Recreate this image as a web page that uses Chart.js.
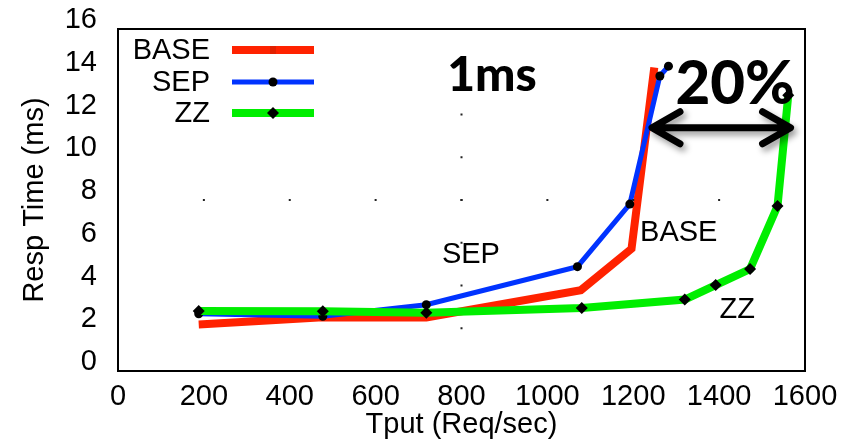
<!DOCTYPE html>
<html>
<head>
    <title>Resp Time vs Tput</title>
    <script src="https://cdn.jsdelivr.net/npm/chart.js"></script>
    <style>
        body { margin: 0; background: #fff; }
    </style>
</head>
<body>
    <canvas id="rtChart" width="855" height="443"></canvas>

    <script>
    // values
    const seriesNames = ['BASE', 'SEP', 'ZZ'];
    const baseTput = [188, 477, 718, 1078, 1196, 1249];
    const baseResp = [2.18, 2.52, 2.5, 3.78, 5.72, 14.2];
    const sepTput = [188, 477, 718, 1070, 1192, 1262, 1282];
    const sepResp = [2.68, 2.56, 3.1, 4.88, 7.81, 13.8, 14.26];
    const zzTput = [188, 477, 718, 1080, 1320, 1392, 1472, 1536, 1561];
    const zzResp = [2.81, 2.8, 2.72, 2.95, 3.34, 4.02, 4.77, 7.72, 12.9];
    const xTickValues = [0, 200, 400, 600, 800, 1000, 1200, 1400, 1600];
    const yTickValues = [0, 2, 4, 6, 8, 10, 12, 14, 16];

    const toPoints = (xs, ys) => xs.map((x, i) => ({ x: x, y: ys[i] }));
    const FONT = '"Liberation Sans", Arial, Helvetica, sans-serif';
    const BOLD = 'Lato, "DejaVu Sans", sans-serif';

    const noPad = s => { s.paddingTop = 0; s.paddingBottom = 0; s.paddingLeft = 0; s.paddingRight = 0; };

    // frame, sparse grid dots, legend, labels and the 20% arrow
    const decor = {
        id: 'decor',
        afterDatasetsDraw(chart) {
            const c = chart.ctx;
            const a = chart.chartArea;
            const xs = chart.scales.x, ys = chart.scales.y;

            // dotted mid grid (x=800, y=8)
            c.save();
            c.fillStyle = '#222';
            yTickValues.forEach(v => {
                const py = ys.getPixelForValue(v);
                if (v > 0 && v < 16) c.fillRect(xs.getPixelForValue(800) - 1, py - 1, 2, 2);
            });
            xTickValues.forEach(v => {
                const px = xs.getPixelForValue(v);
                if (v > 0 && v < 1600) c.fillRect(px - 1, ys.getPixelForValue(8) - 1, 2, 2);
            });
            c.restore();

            // frame
            c.save();
            c.strokeStyle = '#000';
            c.lineWidth = 2;
            c.strokeRect(a.left, a.top, a.right - a.left, a.bottom - a.top);
            c.restore();

            // legend
            const ds = chart.data.datasets;
            const legY = [50, 82, 113];
            c.save();
            c.font = '29px ' + FONT;
            c.textAlign = 'right';
            c.textBaseline = 'middle';
            ds.forEach((d, i) => {
                const y = legY[i];
                c.fillStyle = '#000';
                c.fillText(d.label, 210, y + 1);
                c.strokeStyle = d.borderColor;
                c.lineWidth = d.borderWidth;
                c.beginPath();
                c.moveTo(232, y);
                c.lineTo(314, y);
                c.stroke();
                c.fillStyle = '#000';
                if (d.pointStyle === 'circle') {
                    c.beginPath();
                    c.arc(273, y, 4.5, 0, Math.PI * 2);
                    c.fill();
                } else if (d.pointStyle === 'rectRot') {
                    c.beginPath();
                    c.moveTo(273, y - 6);
                    c.lineTo(279, y);
                    c.lineTo(273, y + 6);
                    c.lineTo(267, y);
                    c.closePath();
                    c.fill();
                } else {
                    c.fillStyle = '#e22000';
                    c.fillRect(270, y - 4, 6, 8);
                }
            });

            // curve labels
            c.textAlign = 'center';
            c.fillStyle = '#000';
            c.fillText('SEP', xs.getPixelForValue(822), ys.getPixelForValue(5.45));
            c.fillText('BASE', xs.getPixelForValue(1306), ys.getPixelForValue(6.44));
            c.fillText('ZZ', xs.getPixelForValue(1442), ys.getPixelForValue(2.84));

            // big annotations
            c.font = '900 48px ' + BOLD;
            c.fillText('1ms', xs.getPixelForValue(871), ys.getPixelForValue(13.83));
            c.font = '900 60px ' + BOLD;
            c.fillText('20%', xs.getPixelForValue(1437), ys.getPixelForValue(13.4));

            // double arrow
            const x1 = xs.getPixelForValue(1239), x2 = xs.getPixelForValue(1571);
            const ya = ys.getPixelForValue(11.38);
            c.shadowColor = 'rgba(0,0,0,0.4)';
            c.shadowBlur = 6;
            c.shadowOffsetX = 3;
            c.shadowOffsetY = 4;
            c.strokeStyle = '#000';
            c.lineWidth = 7;
            c.lineCap = 'round';
            c.lineJoin = 'round';
            c.beginPath();
            c.moveTo(x1 + 3, ya);
            c.lineTo(x2 - 3, ya);
            c.moveTo(x1 + 30, ya - 16);
            c.lineTo(x1 + 2, ya);
            c.lineTo(x1 + 30, ya + 16);
            c.moveTo(x2 - 30, ya - 16);
            c.lineTo(x2 - 2, ya);
            c.lineTo(x2 - 30, ya + 16);
            c.stroke();
            c.restore();
        }
    };

    const ctx = document.getElementById('rtChart').getContext('2d');
    const chart = new Chart(ctx, {
        type: 'line',
        data: {
            datasets: [{
                label: seriesNames[0],
                data: toPoints(baseTput, baseResp),
                borderColor: '#ff2200',
                borderWidth: 8,
                pointRadius: 0,
                pointStyle: 'rect',
                order: 3
            }, {
                label: seriesNames[1],
                data: toPoints(sepTput, sepResp),
                borderColor: '#0033ff',
                borderWidth: 5,
                pointStyle: 'circle',
                pointRadius: 4.5,
                pointBackgroundColor: '#000',
                pointBorderColor: '#000',
                pointBorderWidth: 0,
                order: 2
            }, {
                label: seriesNames[2],
                data: toPoints(zzTput, zzResp),
                borderColor: '#00ee00',
                borderWidth: 8,
                pointStyle: 'rectRot',
                pointRadius: 6,
                pointBackgroundColor: '#000',
                pointBorderColor: '#000',
                pointBorderWidth: 0,
                order: 1
            }]
        },
        options: {
            responsive: false,
            animation: false,
            devicePixelRatio: 1,
            layout: { padding: { left: 0, right: 50, top: 29, bottom: 0 } },
            elements: { line: { tension: 0, fill: false } },
            plugins: {
                legend: { display: false },
                tooltip: { enabled: false }
            },
            scales: {
                x: {
                    type: 'linear',
                    min: 0,
                    max: 1600,
                    afterBuildTicks: s => { s.ticks = xTickValues.map(v => ({ value: v })); },
                    afterFit: s => { s.height = 72; noPad(s); },
                    grid: { display: false, drawTicks: false },
                    border: { display: false },
                    ticks: { color: '#000', font: { family: FONT, size: 29 }, padding: 9, maxRotation: 0, callback: v => String(v) },
                    title: { display: true, text: 'Tput (Req/sec)', color: '#000', font: { family: FONT, size: 29 }, padding: { top: 0, bottom: 1 } }
                },
                y: {
                    min: 0,
                    max: 16,
                    afterBuildTicks: s => { s.ticks = yTickValues.map(v => ({ value: v })); },
                    afterFit: s => { s.width = 118; noPad(s); },
                    grid: { display: false, drawTicks: false },
                    border: { display: false },
                    ticks: { color: '#000', font: { family: FONT, size: 29 }, padding: 21, labelOffset: -9, callback: v => String(v) },
                    title: { display: true, text: 'Resp Time (ms)', color: '#000', font: { family: FONT, size: 29 }, padding: { top: 18, bottom: 0 } }
                }
            }
        },
        plugins: [decor]
    });
    </script>
</body>
</html>
